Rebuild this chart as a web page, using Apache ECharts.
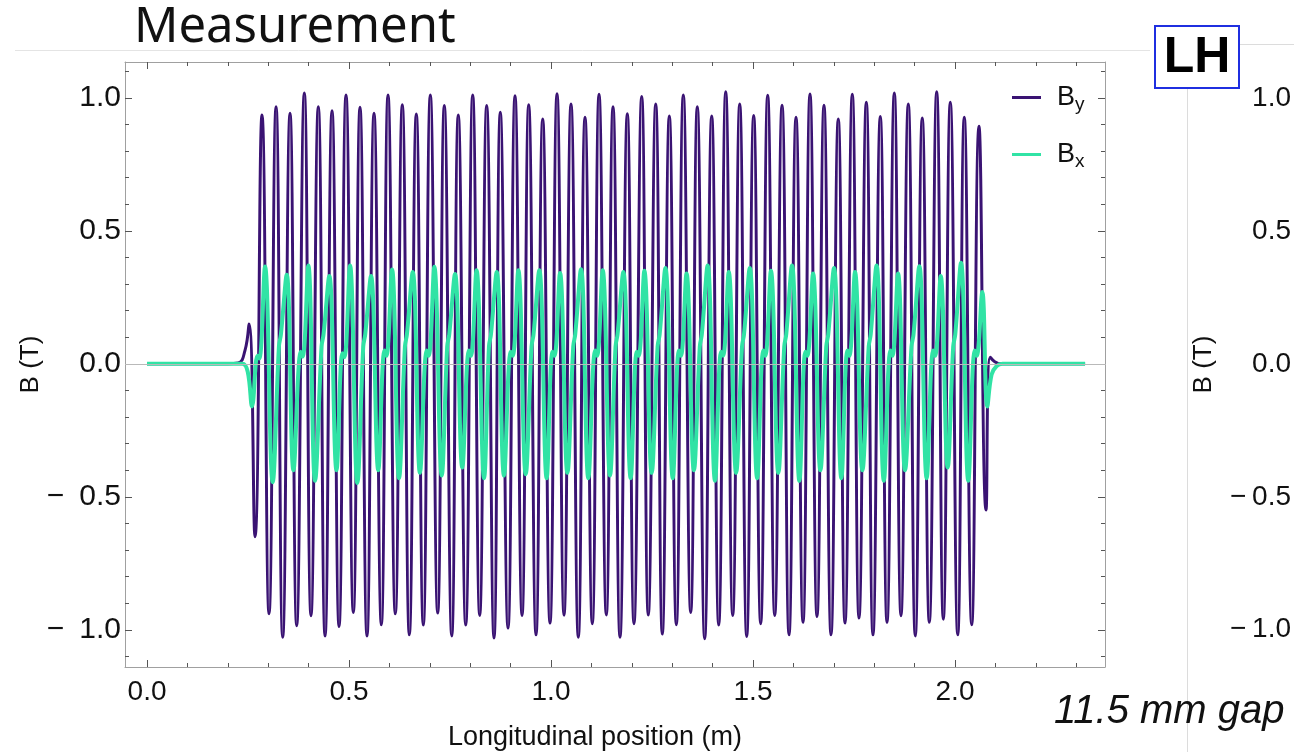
<!DOCTYPE html>
<html>
<head>
<meta charset="utf-8">
<script src="https://cdn.jsdelivr.net/npm/echarts@6/dist/echarts.min.js"></script>
<style>
  html, body { margin: 0; padding: 0; background: #ffffff; }
  #chart { width: 1294px; height: 752px; }
</style>
</head>
<body>
<div id="chart"></div>
<script>
// ---- Field map along the undulator axis (position in m, field in T) ----

// By: field before the first pole, and the end-field tail
const byLeadIn = [[0, 0], [0.1, 0], [0.2, 0], [0.2256, 0.003], [0.2424, 0.05], [0.2525, 0.15]];
const byTail = [[2.0872, 0.025], [2.0984, 0.008], [2.1128, 0], [2.25, 0], [2.322, 0]];

// By: positive pole peaks
const byPosX = [0.2846, 0.3194, 0.3540, 0.3894, 0.4240, 0.4580, 0.4926, 0.5272, 0.5619, 0.5966,
  0.6319, 0.6666, 0.7013, 0.7359, 0.7705, 0.8062, 0.8408, 0.8745, 0.9109, 0.9448,
  0.9795, 1.0149, 1.0495, 1.0842, 1.1189, 1.1535, 1.1889, 1.2245, 1.2592, 1.2929,
  1.3275, 1.3621, 1.3978, 1.4325, 1.4671, 1.5017, 1.5364, 1.5719, 1.6065, 1.6411,
  1.6757, 1.7111, 1.7458, 1.7805, 1.8151, 1.8498, 1.8844, 1.9190, 1.9547, 1.9884,
  2.0230, 2.0594];
const byPosY = [0.936, 0.967, 0.942, 1.018, 0.967, 0.952, 1.011, 0.965, 0.942, 1.011,
  0.974, 0.939, 1.011, 0.971, 0.936, 1.011, 0.971, 0.946, 1.008, 0.974,
  0.921, 1.016, 0.977, 0.927, 1.014, 0.967, 0.940, 1.005, 0.977, 0.932,
  1.011, 0.967, 0.932, 1.023, 0.977, 0.934, 1.010, 0.972, 0.927, 1.015,
  0.972, 0.921, 1.014, 0.984, 0.930, 1.018, 0.977, 0.924, 1.023, 0.984,
  0.927, 0.893];

// By: negative pole peaks
const byNegX = [0.2673, 0.3020, 0.3359, 0.3705, 0.4059, 0.4407, 0.4753, 0.5107, 0.5445, 0.5800,
  0.6146, 0.6493, 0.6839, 0.7195, 0.7543, 0.7889, 0.8235, 0.8589, 0.8936, 0.9283,
  0.9629, 0.9975, 1.0322, 1.0676, 1.1022, 1.1369, 1.1708, 1.2054, 1.2408, 1.2755,
  1.3102, 1.3458, 1.3804, 1.4151, 1.4498, 1.4844, 1.5190, 1.5538, 1.5892, 1.6238,
  1.6584, 1.6931, 1.7277, 1.7624, 1.7970, 1.8317, 1.8663, 1.9017, 1.9364, 1.9711,
  2.0068, 2.0414, 2.0768];
const byNegY = [-0.650, -0.940, -1.028, -0.985, -0.947, -1.023, -0.988, -0.935, -1.023, -0.981,
  -0.940, -1.019, -0.982, -0.937, -1.023, -0.982, -0.946, -1.031, -0.994, -0.946,
  -1.019, -0.975, -0.945, -1.028, -0.977, -0.944, -1.028, -0.977, -0.944, -1.016,
  -0.981, -0.935, -1.034, -0.982, -0.946, -1.025, -0.977, -0.946, -1.019, -0.972,
  -0.950, -1.019, -0.975, -0.956, -1.019, -0.972, -0.947, -1.023, -0.972, -0.960,
  -1.019, -0.981, -0.550];

// Bx: entrance and exit
const bxLeadIn = [[0, 0], [0.1, 0], [0.2, 0], [0.2363, 0], [0.2493, -0.03], [0.2600, -0.16]];
const bxTail = [[2.0906, -0.04], [2.1032, -0.008], [2.1177, 0], [2.25, 0], [2.322, 0]];

// Bx: maxima
const bxPeakX = [0.2921, 0.3458, 0.3993, 0.4512, 0.5025, 0.5545, 0.6065, 0.6577, 0.7111, 0.7624,
  0.8156, 0.8656, 0.9191, 0.9710, 1.0223, 1.0743, 1.1279, 1.1790, 1.2310, 1.2832,
  1.3354, 1.3877, 1.4399, 1.4920, 1.5443, 1.5965, 1.6486, 1.7005, 1.7525, 1.8058,
  1.8590, 1.9117, 1.9646, 2.0149, 2.0676];
const bxPeakY = [0.366, 0.335, 0.370, 0.330, 0.370, 0.330, 0.355, 0.345, 0.365, 0.338,
  0.352, 0.345, 0.352, 0.352, 0.342, 0.356, 0.352, 0.345, 0.350, 0.360,
  0.340, 0.370, 0.345, 0.360, 0.350, 0.370, 0.340, 0.360, 0.345, 0.370,
  0.340, 0.367, 0.330, 0.380, 0.270];

// Bx: minima
const bxTroughX = [0.3111, 0.3626, 0.4159, 0.4691, 0.5206, 0.5725, 0.6238, 0.6757, 0.7295, 0.7805,
  0.8342, 0.8837, 0.9374, 0.9893, 1.0406, 1.0925, 1.1460, 1.1973, 1.2492, 1.3015,
  1.3537, 1.4060, 1.4582, 1.5104, 1.5627, 1.6149, 1.6668, 1.7188, 1.7708, 1.8240,
  1.8763, 1.9300, 1.9819, 2.0330, 2.0800];
const bxTroughY = [-0.445, -0.400, -0.440, -0.400, -0.448, -0.400, -0.430, -0.410, -0.420, -0.390,
  -0.430, -0.420, -0.415, -0.430, -0.410, -0.430, -0.420, -0.430, -0.410, -0.430,
  -0.400, -0.440, -0.410, -0.430, -0.410, -0.440, -0.400, -0.430, -0.400, -0.440,
  -0.400, -0.430, -0.390, -0.440, -0.160];

// Bx: small hump near zero on the rising edge (every second maximum)
const bxBumpX = [0.2733, 0.2782, 0.3805, 0.3854, 0.4837, 0.4886, 0.5877, 0.5926, 0.6923, 0.6973,
  0.7968, 0.8018, 0.9002, 0.9053, 1.0035, 1.0085, 1.1092, 1.1141, 1.2122, 1.2171,
  1.3166, 1.3216, 1.4210, 1.4260, 1.5255, 1.5304, 1.6297, 1.6346, 1.7337, 1.7386,
  1.8401, 1.8451, 1.9458, 1.9508, 2.0488, 2.0538];
const bxBumpY = [0.030, 0.020, 0.045, 0.027, 0.040, 0.025, 0.050, 0.030, 0.050, 0.030,
  0.050, 0.030, 0.045, 0.030, 0.045, 0.030, 0.050, 0.030, 0.045, 0.030,
  0.050, 0.030, 0.045, 0.030, 0.050, 0.030, 0.045, 0.030, 0.050, 0.030,
  0.050, 0.030, 0.050, 0.030, 0.050, 0.030];

// Bx: shoulder on the rising edge (the other maxima)
const bxShoulderX = [0.3265, 0.3314, 0.4320, 0.4369, 0.5352, 0.5401, 0.6384, 0.6433, 0.7430, 0.7481,
  0.8464, 0.8513, 0.9518, 0.9567, 1.0550, 1.0599, 1.1597, 1.1646, 1.2638, 1.2689,
  1.3683, 1.3733, 1.4728, 1.4777, 1.5773, 1.5822, 1.6813, 1.6862, 1.7864, 1.7913,
  1.8923, 1.8973, 1.9955, 2.0006];
const bxShoulderY = [0.065, 0.110, 0.065, 0.110, 0.065, 0.110, 0.065, 0.110, 0.065, 0.110,
  0.065, 0.110, 0.065, 0.110, 0.065, 0.110, 0.065, 0.110, 0.065, 0.110,
  0.065, 0.110, 0.065, 0.110, 0.065, 0.110, 0.065, 0.110, 0.065, 0.110,
  0.065, 0.110, 0.065, 0.110];

// Axis ticks
const xMinorTicks = [0, 0.1, 0.2, 0.3, 0.4, 0.5, 0.6, 0.7, 0.8, 0.9, 1.0, 1.1, 1.2,
  1.3, 1.4, 1.5, 1.6, 1.7, 1.8, 1.9, 2.0, 2.1, 2.2, 2.3];
const xMajorTicks = [0, 0.5, 1.0, 1.5, 2.0];
const yMinorTicks = [-1.1, -1.0, -0.9, -0.8, -0.7, -0.6, -0.5, -0.4, -0.3, -0.2, -0.1, 0,
  0.1, 0.2, 0.3, 0.4, 0.5, 0.6, 0.7, 0.8, 0.9, 1.0, 1.1];
const yMajorTicks = [-1.0, -0.5, 0, 0.5, 1.0];

// ---- assemble series ----
const pairs = (xs, ys) => xs.map((x, i) => [x, ys[i]]);
const byX = (a, b) => a[0] - b[0];
const byData = [].concat(byLeadIn, pairs(byPosX, byPosY), pairs(byNegX, byNegY), byTail).sort(byX);
const bxData = [].concat(bxLeadIn, pairs(bxPeakX, bxPeakY), pairs(bxTroughX, bxTroughY),
  pairs(bxBumpX, bxBumpY), pairs(bxShoulderX, bxShoulderY), bxTail).sort(byX);

const X_MIN = -0.0545, X_MAX = 2.3713;
const Y_MIN = -1.14, Y_MAX = 1.135;
const FONT = 'Liberation Sans';
const FRAME = '#a0a0a0';
const TICK = '#555555';
const fmtX = v => v.toFixed(1);
const fmtWide = v => (v < 0 ? '\u2212\u2002' : '') + Math.abs(v).toFixed(1);
const fmtNarrow = v => (v < 0 ? '\u2212\u2009' : '') + Math.abs(v).toFixed(1);

// plot rectangle is fixed; labels and names sit outside it
const plotRect = { left: 125, top: 62, right: 189, bottom: 85, outerBoundsMode: 'none', containLabel: false };

function frameAxis(grid, pos, ticks, len, withLine) {
  return {
    gridIndex: grid, type: 'value', position: pos,
    axisLine: { show: withLine, onZero: false, lineStyle: { color: FRAME, width: 1 } },
    axisTick: { show: true, inside: true, length: len, customValues: ticks, lineStyle: { color: TICK } },
    axisLabel: { show: false }, splitLine: { show: false }
  };
}

const xLabels = { customValues: xMajorTicks, formatter: fmtX, fontFamily: FONT, fontSize: 28, color: '#111111', margin: 11 };
const yLabels = { customValues: yMajorTicks, formatter: fmtWide, fontFamily: FONT, fontSize: 30, color: '#111111', margin: 4 };

const xBottom = Object.assign(frameAxis(0, 'bottom', xMinorTicks, 4, true), {
  min: X_MIN, max: X_MAX, axisLabel: xLabels,
  name: 'Longitudinal position (m)', nameLocation: 'middle', nameGap: 57, nameMoveOverlap: false,
  nameTextStyle: { fontFamily: FONT, fontSize: 27, color: '#111111', padding: [0, 40, 0, 0] }
});
const yLeft = Object.assign(frameAxis(0, 'left', yMinorTicks, 4, true), {
  min: Y_MIN, max: Y_MAX, axisLabel: yLabels,
  name: 'B (T)', nameLocation: 'middle', nameGap: 81, nameRotate: 90, nameMoveOverlap: false,
  nameTextStyle: { fontFamily: FONT, fontSize: 26, color: '#111111' }
});

const option = {
  animation: false,
  backgroundColor: '#ffffff',
  title: {
    text: 'Measurement', left: 129, top: -1,
    textStyle: { fontFamily: 'Noto Sans', fontSize: 49, fontWeight: 'normal', color: '#111111' }
  },
  legend: {
    orient: 'vertical', left: 1007, top: 79, itemWidth: 29, itemHeight: 3, itemGap: 27,
    icon: 'rect',
    data: ['By', 'Bx'],
    formatter: n => n === 'By' ? '{b|B}{s|y}' : '{b|B}{s|x}',
    textStyle: {
      rich: {
        b: { fontFamily: FONT, fontSize: 27, color: '#111111', padding: [0, 0, 0, 11] },
        s: { fontFamily: FONT, fontSize: 19, color: '#111111', padding: [14, 0, 0, 0] }
      }
    }
  },
  grid: [
    Object.assign({}, plotRect),
    Object.assign({}, plotRect),
    { left: 1299, top: 62, width: 200, bottom: 85, outerBoundsMode: 'none', containLabel: false }
  ],
  xAxis: [
    xBottom,
    Object.assign(frameAxis(0, 'top', xMinorTicks, 4, true), { min: X_MIN, max: X_MAX }),
    Object.assign(frameAxis(1, 'bottom', xMajorTicks, 7, false), { min: X_MIN, max: X_MAX }),
    Object.assign(frameAxis(1, 'top', xMajorTicks, 7, false), { min: X_MIN, max: X_MAX }),
    { gridIndex: 2, type: 'value', min: 0, max: 1, show: false }
  ],
  yAxis: [
    yLeft,
    Object.assign(frameAxis(0, 'right', yMinorTicks, 4, true), { min: Y_MIN, max: Y_MAX }),
    Object.assign(frameAxis(1, 'left', yMajorTicks, 7, false), { min: Y_MIN, max: Y_MAX }),
    Object.assign(frameAxis(1, 'right', yMajorTicks, 7, false), { min: Y_MIN, max: Y_MAX }),
    // neighbouring panel, only its value axis is in view
    { gridIndex: 2, type: 'value', min: Y_MIN, max: Y_MAX, position: 'left',
      axisLine: { show: false, onZero: false }, axisTick: { show: false },
      axisLabel: Object.assign({}, yLabels, { formatter: fmtNarrow, fontSize: 28, margin: 8 }),
      splitLine: { show: false },
      name: 'B (T)', nameLocation: 'middle', nameGap: 82, nameRotate: 90, nameMoveOverlap: false,
      nameTextStyle: { fontFamily: FONT, fontSize: 26, color: '#111111' } }
  ],
  series: [
    { name: 'By', type: 'line', xAxisIndex: 0, yAxisIndex: 0, data: byData,
      symbol: 'none', showSymbol: false, smooth: 0.5, z: 2,
      lineStyle: { color: '#3a1373', width: 3 }, itemStyle: { color: '#3a1373' },
      markLine: { silent: true, symbol: 'none', label: { show: false },
        lineStyle: { color: '#b9b9b9', width: 1, type: 'solid' }, data: [{ yAxis: 0 }] } },
    { name: 'Bx', type: 'line', xAxisIndex: 0, yAxisIndex: 0, data: bxData,
      symbol: 'none', showSymbol: false, smooth: 0.4, z: 3,
      lineStyle: { color: '#31e3a5', width: 4 }, itemStyle: { color: '#31e3a5' } }
  ],
  graphic: [
    { type: 'line', shape: { x1: 15, y1: 50.5, x2: 1150, y2: 50.5 }, style: { stroke: '#e4e4e4', lineWidth: 1 }, silent: true },
    { type: 'line', shape: { x1: 1239, y1: 44.5, x2: 1294, y2: 44.5 }, style: { stroke: '#dcdcdc', lineWidth: 1 }, silent: true },
    { type: 'line', shape: { x1: 1187.5, y1: 88, x2: 1187.5, y2: 752 }, style: { stroke: '#dcdcdc', lineWidth: 1 }, silent: true },
    { type: 'rect', shape: { x: 1155, y: 26, width: 84, height: 62 }, style: { fill: '#ffffff', stroke: '#1f2fe0', lineWidth: 2 }, z: 10 },
    { type: 'text', x: 1197, y: 58, z: 11,
      style: { text: 'LH', font: 'bold 50px "Liberation Sans"', fill: '#000000', textAlign: 'center', textVerticalAlign: 'middle' } },
    { type: 'text', x: 1054, y: 712, z: 11,
      style: { text: '11.5 mm gap', font: 'italic 40px "Liberation Sans"', fill: '#111111', textAlign: 'left', textVerticalAlign: 'middle' } }
  ]
};

const chart = echarts.init(document.getElementById('chart'), null, { renderer: 'canvas' });
chart.setOption(option);
</script>
</body>
</html>
